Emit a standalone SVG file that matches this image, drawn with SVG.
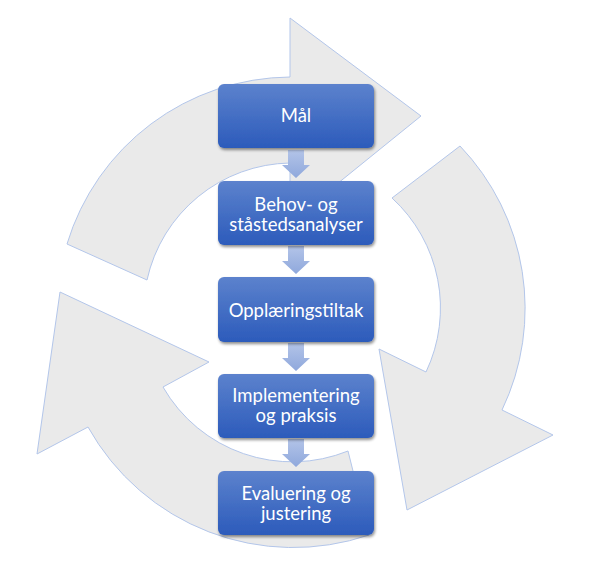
<svg xmlns="http://www.w3.org/2000/svg" width="600" height="563" viewBox="0 0 600 563">
<style>
.cyc{fill:#eaeaea;stroke:#b3c6ea;stroke-width:1;}
.box{fill:url(#bg);filter:url(#sh);}
.dn{fill:url(#ag);}
.t{font-family:Lato,"Liberation Sans",sans-serif;font-size:18.5px;fill:#ffffff;text-anchor:middle;}
</style>
<defs>
<linearGradient id="bg" x1="0" y1="0" x2="0" y2="1">
<stop offset="0" stop-color="#5c82cd"/>
<stop offset="1" stop-color="#2c5bbb"/>
</linearGradient>
<linearGradient id="ag" x1="0" y1="0" x2="0" y2="1">
<stop offset="0" stop-color="#b3c4e8"/>
<stop offset="1" stop-color="#8fa8dc"/>
</linearGradient>
<filter id="sh" x="-10%" y="-10%" width="125%" height="135%">
<feGaussianBlur in="SourceAlpha" stdDeviation="1.5"/>
<feOffset dx="1" dy="2" result="b"/>
<feComponentTransfer><feFuncA type="linear" slope="0.45"/></feComponentTransfer>
<feMerge><feMergeNode/><feMergeNode in="SourceGraphic"/></feMerge>
</filter>
</defs>
<g id="cycle">
<path id="arc-top" class="cyc" d="M67,244 A235,235 0 0 1 290,77 L290,18 L421,116 L290,222 L290,163 A149,149 0 0 0 147,280 Z"/>
<path id="arc-right" class="cyc" d="M460,146 A235,235 0 0 1 502,410 L553,435 L407,510 L379,349 L426,372 A149,149 0 0 0 392,198 Z"/>
<path id="arc-left" class="cyc" d="M369,535 A235,235 0 0 1 88,427 L37,454 L60,292 L209,362 L163,387 A149,149 0 0 0 348,451 Z"/>
</g>
<g id="connectors">
<path class="dn" d="M288,150 L304,150 L304,165 L310,165 L296,178 L282,165 L288,165 Z"/>
<path class="dn" d="M288,246 L304,246 L304,261 L310,261 L296,274 L282,261 L288,261 Z"/>
<path class="dn" d="M288,343 L304,343 L304,358 L310,358 L296,371 L282,358 L288,358 Z"/>
<path class="dn" d="M288,439 L304,439 L304,454 L310,454 L296,467 L282,454 L288,454 Z"/>
</g>
<g id="n1"><rect class="box" x="218" y="84" width="156" height="64" rx="6"/><text class="t" x="296" y="122">Mål</text></g>
<g id="n2"><rect class="box" x="218" y="181" width="156" height="64" rx="6"/><text class="t" x="296" y="211">Behov- og</text><text class="t" x="296" y="231">ståstedsanalyser</text></g>
<g id="n3"><rect class="box" x="218" y="277" width="156" height="65" rx="6"/><text class="t" x="296" y="317">Opplæringstiltak</text></g>
<g id="n4"><rect class="box" x="218" y="374" width="156" height="64" rx="6"/><text class="t" x="296" y="402">Implementering</text><text class="t" x="296" y="422">og praksis</text></g>
<g id="n5"><rect class="box" x="218" y="471" width="156" height="64" rx="6"/><text class="t" x="296" y="500">Evaluering og</text><text class="t" x="296" y="520">justering</text></g>
</svg>
